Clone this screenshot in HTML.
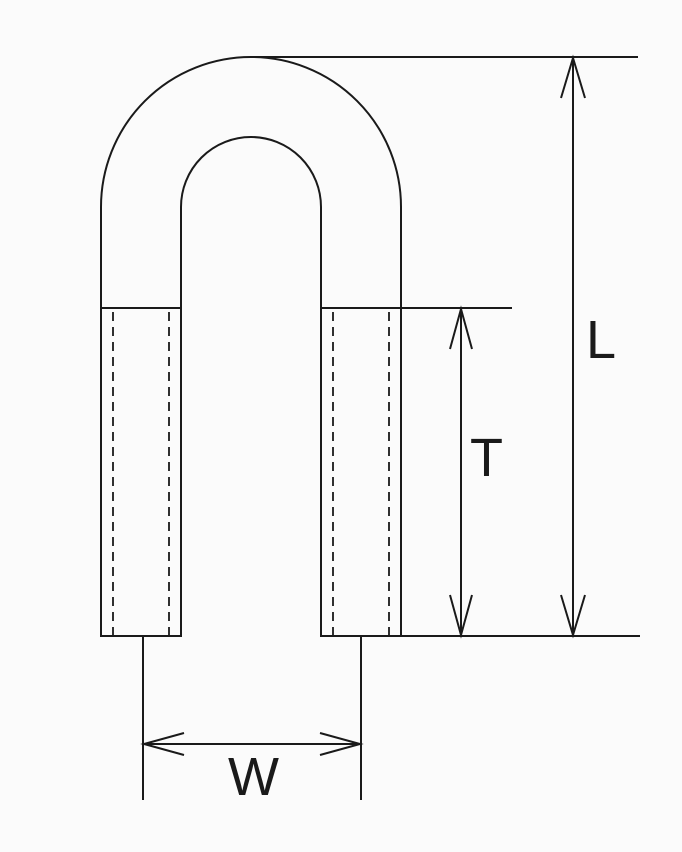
<!DOCTYPE html>
<html><head><meta charset="utf-8"><style>html,body{margin:0;padding:0;background:#fbfbfb}svg{display:block}</style></head>
<body>
<svg width="682" height="852" viewBox="0 0 682 852" xmlns="http://www.w3.org/2000/svg">
<rect width="682" height="852" fill="#fbfbfb"/>
<g fill="none" stroke="#1a1a1a" stroke-width="2">
<path d="M101 636 L101 207 A150 150 0 0 1 401 207 L401 636 L321 636 L321 207 A70 70 0 0 0 181 207 L181 636 Z"/>
<line x1="101" y1="308" x2="181" y2="308"/>
<line x1="321" y1="308" x2="512" y2="308"/>
<line x1="251" y1="57" x2="638" y2="57"/>
<line x1="401" y1="636" x2="640" y2="636"/>
<g stroke-dasharray="9,6" stroke-width="1.8">
<line x1="113" y1="312" x2="113" y2="636"/>
<line x1="169" y1="312" x2="169" y2="636"/>
<line x1="333" y1="312" x2="333" y2="636"/>
<line x1="389" y1="312" x2="389" y2="636"/>
</g>
<line x1="573" y1="57" x2="573" y2="636"/>
<path d="M561 98 L573 58 L585 98"/>
<path d="M561 595 L573 635 L585 595"/>
<line x1="461" y1="308" x2="461" y2="636"/>
<path d="M450 349 L461 309 L472 349"/>
<path d="M450 595 L461 635 L472 595"/>
<line x1="143" y1="636" x2="143" y2="800"/>
<line x1="361" y1="636" x2="361" y2="800"/>
<line x1="143" y1="744" x2="361" y2="744"/>
<path d="M184 733 L144 744 L184 755"/>
<path d="M320 733 L360 744 L320 755"/>
</g>
<g font-family="Liberation Sans, sans-serif" font-size="54" fill="#1a1a1a">
<text x="586" y="358">L</text>
<text x="470" y="476">T</text>
<text x="228" y="795">W</text>
</g>
</svg>
</body></html>
